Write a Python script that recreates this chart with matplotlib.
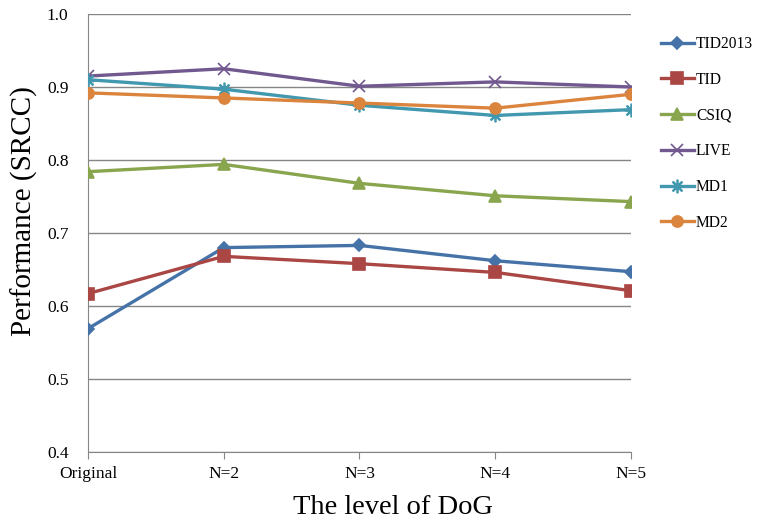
import matplotlib
matplotlib.use('Agg')
import matplotlib.pyplot as plt

# data
levels = ['Original', 'N=2', 'N=3', 'N=4', 'N=5']
tid2013 = [0.569, 0.680, 0.683, 0.662, 0.647]
tid = [0.617, 0.668, 0.658, 0.646, 0.621]
csiq = [0.784, 0.794, 0.768, 0.751, 0.743]
live = [0.915, 0.925, 0.901, 0.907, 0.900]
md1 = [0.910, 0.897, 0.875, 0.861, 0.869]
md2 = [0.892, 0.885, 0.878, 0.871, 0.890]

series_names = ['TID2013', 'TID', 'CSIQ', 'LIVE', 'MD1', 'MD2']
series_values = [tid2013, tid, csiq, live, md1, md2]
colors = ['#4572A7', '#AA4643', '#89A54E', '#71588F', '#4198AF', '#DB843D']
markers = ['D', 's', '^', 'x', '$\u2733$', 'o']
msizes = [6, 8, 8, 8, 9, 8]

plt.rcParams['font.family'] = ['Liberation Serif', 'DejaVu Serif']

fig = plt.figure(figsize=(7.61, 5.21), dpi=100)
ax = fig.add_axes([88 / 761, 1 - 452 / 521, (631 - 88) / 761, (452 - 14) / 521])

x = list(range(len(levels)))
for name, vals, c, m, ms in zip(series_names, series_values, colors, markers, msizes):
    ax.plot(x, vals, color=c, lw=2.4, marker=m, markersize=ms,
            markeredgecolor=c, markerfacecolor=c, markeredgewidth=1.2,
            label=name, zorder=3)

ax.set_xlim(0, len(levels) - 1)
ax.set_ylim(0.4, 1.0)
ax.set_yticks([0.4, 0.5, 0.6, 0.7, 0.8, 0.9, 1.0])
ax.set_yticklabels(['%.1f' % v for v in ax.get_yticks()])
ax.set_xticks(x)
ax.set_xticklabels(levels)
ax.grid(axis='y', color='#868686', lw=1.0, zorder=0)
ax.tick_params(axis='y', length=0, labelsize=12.5, pad=14)
ax.tick_params(axis='x', length=5, color='#868686', direction='out',
               labelsize=12.5, pad=5)
for s in ['top', 'right']:
    ax.spines[s].set_visible(False)
for s in ['left', 'bottom']:
    ax.spines[s].set_color('#868686')

ax.set_ylabel('Performance (SRCC)', fontsize=21)
ax.yaxis.set_label_coords(-0.093, 0.55)
ax.set_xlabel('The level of DoG', fontsize=20.5)
ax.xaxis.set_label_coords(0.562, -0.098)

leg = fig.legend(loc='upper left', bbox_to_anchor=(647 / 761, 1 - 22 / 521),
                 frameon=False, fontsize=11.2, labelspacing=1.27,
                 handlelength=2.1, handletextpad=0.15)

fig.savefig('out.png', dpi=100)
